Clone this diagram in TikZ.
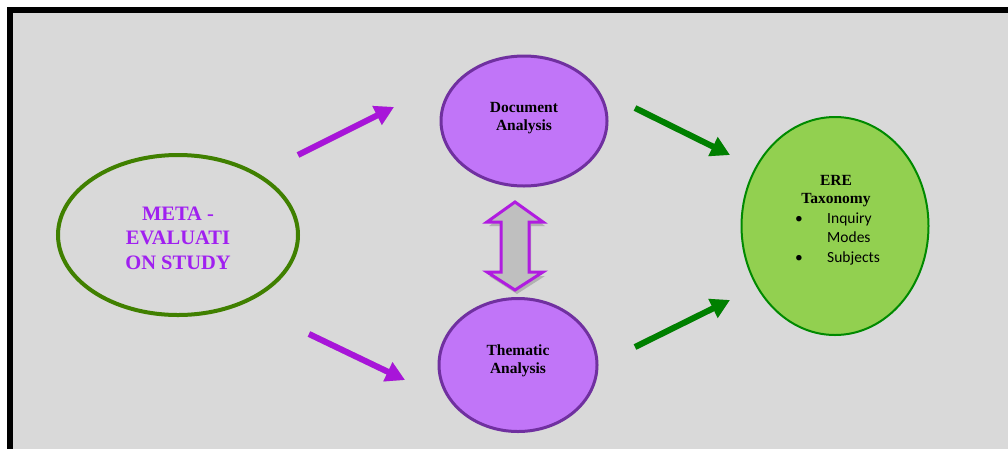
\documentclass[tikz,border=0pt]{standalone}
\usepackage{fontspec}
\setmainfont{Liberation Serif}
\newfontfamily\calibrifont{Carlito}
\usetikzlibrary{arrows.meta,shapes.geometric}
\definecolor{bggray}{HTML}{D9D9D9}
\definecolor{purplefill}{HTML}{C175F8}
\definecolor{purpleedge}{HTML}{7030A0}
\definecolor{arrowpurple}{HTML}{A815D9}
\definecolor{metatext}{HTML}{A020F0}
\definecolor{metaedge}{HTML}{408000}
\definecolor{erefill}{HTML}{92D050}
\definecolor{ereedge}{HTML}{008A00}
\definecolor{greenarrow}{HTML}{008000}
\definecolor{dblfill}{HTML}{BFBFBF}
\definecolor{dbledge}{HTML}{B01CE0}
\tikzset{
  ellbox/.style={ellipse, inner sep=0pt},
  metatxt/.style={anchor=base, inner sep=0pt, text=metatext, font=\bfseries\fontsize{20.5}{24}\selectfont},
  anatxt/.style={anchor=base, inner sep=0pt, text=black, font=\bfseries\fontsize{15.5}{18}\selectfont},
  bultxt/.style={anchor=base west, inner sep=0pt, text=black, font=\calibrifont\fontsize{15.5}{19}\selectfont},
  bigarrow/.style={line width=6pt, -{Triangle[width=20pt,length=19pt]}},
  shadowarrow/.style={bigarrow, draw=black, opacity=0.18},
}
\begin{document}
\begin{tikzpicture}[x=1pt,y=-1pt]
\useasboundingbox (0,0) rectangle (1008,448);
\clip (0,0) rectangle (1008,448);
% frame
\draw[line width=6pt, fill=bggray] (10,10) rectangle (1020,460);

% ellipses
\node[ellbox, draw=metaedge, line width=4pt, minimum width=240pt, minimum height=160pt] (meta) at (178,235) {};
\node[ellbox, draw=purpleedge, fill=purplefill, line width=3pt, minimum width=166pt, minimum height=130pt] (doc) at (524,121) {};
\node[ellbox, draw=purpleedge, fill=purplefill, line width=3pt, minimum width=158pt, minimum height=133pt] (them) at (518,365) {};
\node[ellbox, draw=ereedge, fill=erefill, line width=2pt, minimum width=187pt, minimum height=218pt] (ere) at (835,226) {};

% texts
\node[metatxt] (m1) at (178,220) {META -};
\node[metatxt] (m2) at (178,244) {EVALUATI};
\node[metatxt] (m3) at (178,269) {ON STUDY};

\node[anatxt] (d1) at (524,112) {Document};
\node[anatxt] (d2) at (524,130) {Analysis};

\node[anatxt] (t1) at (518,355) {Thematic};
\node[anatxt] (t2) at (518,373) {Analysis};

\node[anatxt] (e1) at (836,185) {ERE};
\node[anatxt] (e2) at (836,203) {Taxonomy};
\node[bultxt] (b1) at (795,223) {\textbullet};
\node[bultxt] (i1) at (827,223) {Inquiry};
\node[bultxt] (i2) at (827,242) {Modes};
\node[bultxt] (b2) at (795,262) {\textbullet};
\node[bultxt] (i3) at (827,262) {Subjects};

% arrow end points
\coordinate (p1s) at (298,155);
\coordinate (p1e) at (394,107);
\coordinate (p2s) at (309,334);
\coordinate (p2e) at (405,380);
\coordinate (g1s) at (635,108);
\coordinate (g1e) at (730,155);
\coordinate (g2s) at (635,347);
\coordinate (g2e) at (730,300);

% shadows
\begin{scope}[shift={(2,4)}]
\draw[shadowarrow] (p1s) -- (p1e);
\draw[shadowarrow] (p2s) -- (p2e);
\draw[shadowarrow] (g1s) -- (g1e);
\draw[shadowarrow] (g2s) -- (g2e);
\fill[black, opacity=0.18] (515,202) -- (543,222) -- (529,222) -- (529,272) -- (543,272) -- (515,290) -- (487,272) -- (501,272) -- (501,222) -- (487,222) -- cycle;
\end{scope}

% arrows
\draw[bigarrow, draw=arrowpurple] (p1s) -- (p1e);
\draw[bigarrow, draw=arrowpurple] (p2s) -- (p2e);
\draw[bigarrow, draw=greenarrow] (g1s) -- (g1e);
\draw[bigarrow, draw=greenarrow] (g2s) -- (g2e);

% double arrow
\draw[line width=3pt, draw=dbledge, fill=dblfill, line join=miter]
  (515,202) -- (543,222) -- (529,222) -- (529,272) -- (543,272) -- (515,290)
  -- (487,272) -- (501,272) -- (501,222) -- (487,222) -- cycle;
\end{tikzpicture}
\end{document}
